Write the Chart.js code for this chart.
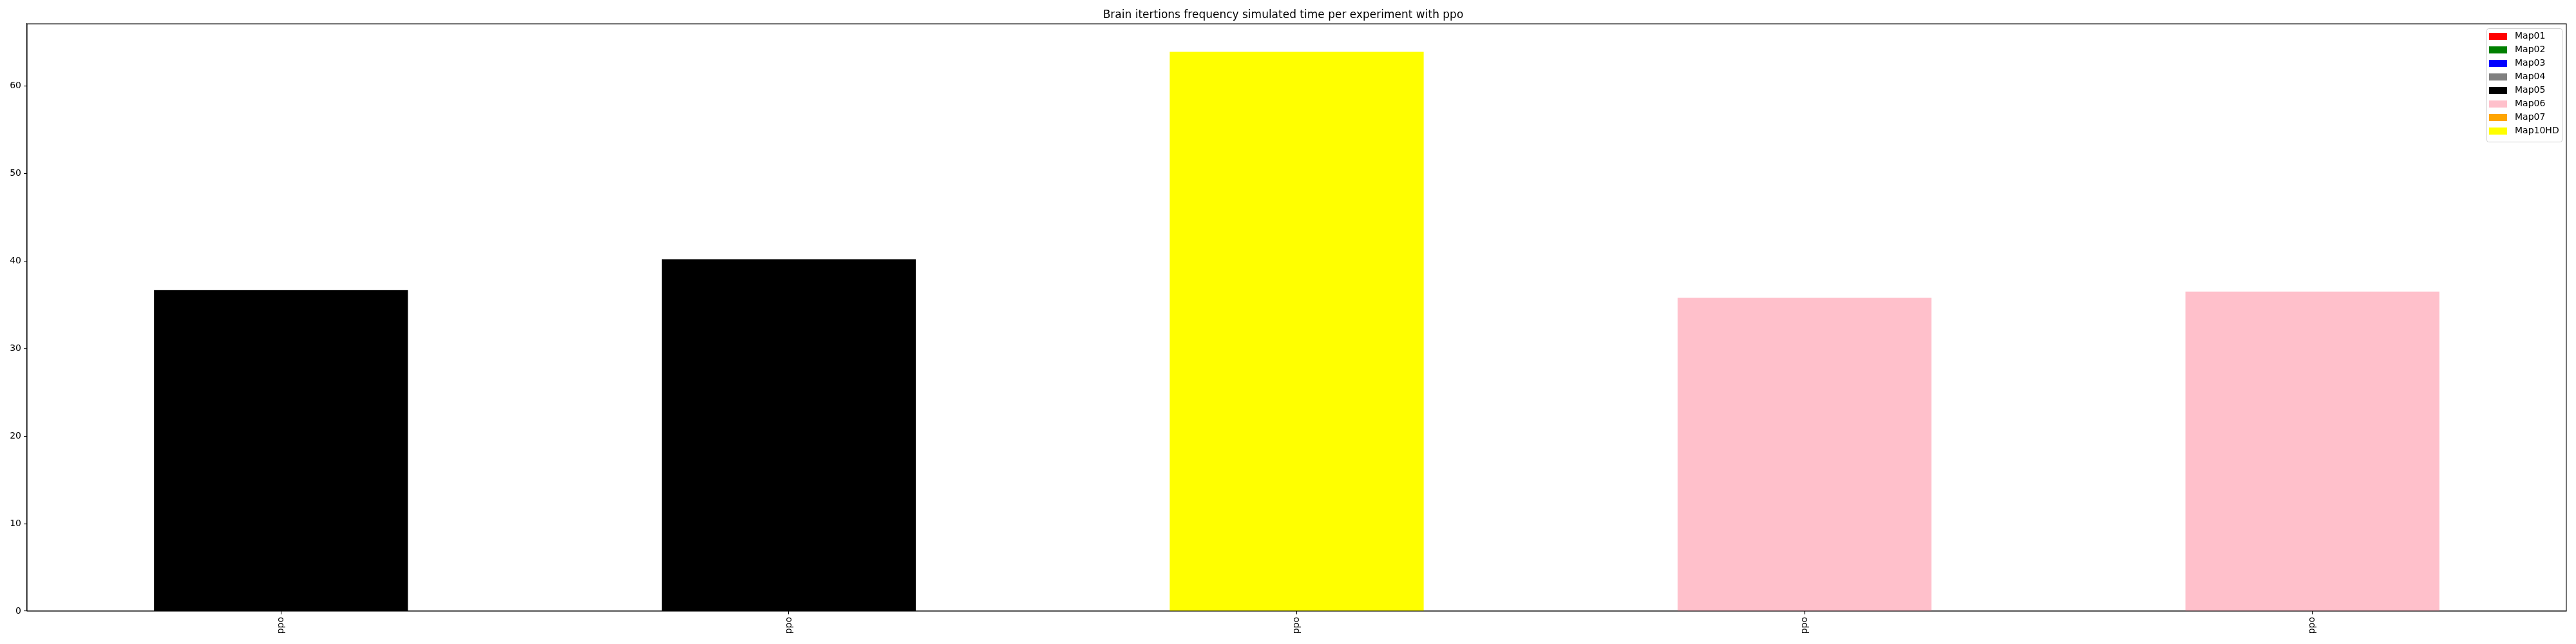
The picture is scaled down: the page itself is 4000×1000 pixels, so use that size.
<!DOCTYPE html>
<html>
<head>
<meta charset="utf-8">
<script src="https://cdn.jsdelivr.net/npm/chart.js@4.4.1/dist/chart.umd.min.js"></script>
<style>
  html, body { margin: 0; padding: 0; background: #fff; }
  #wrap { width: 4000px; height: 1000px; }
</style>
</head>
<body>
<div id="wrap"><canvas id="chartSimTime" width="4000" height="1000"></canvas></div>
<script>
// Values
const mapNames = ['Map01', 'Map02', 'Map03', 'Map04', 'Map05', 'Map06', 'Map07', 'Map10HD'];
const mapColors = ['#ff0000', '#008000', '#0000ff', '#808080', '#000000', '#ffc0cb', '#ffa500', '#ffff00'];
const experimentLabels = ['ppo', 'ppo', 'ppo', 'ppo', 'ppo'];
const experimentMaps = ['Map05', 'Map05', 'Map10HD', 'Map06', 'Map06'];
const simTimeValues = [36.7, 40.2, 63.9, 35.8, 36.5];
const yTickStep = 10;

const FONT = "'DejaVu Sans', sans-serif";

Chart.defaults.font.family = FONT;
Chart.defaults.color = '#000';

/** Frame around the plot area (matplotlib style spines) */
const framePlugin = {
  id: 'frame',
  afterDraw(chart) {
    const { ctx, chartArea: a } = chart;
    ctx.save();
    ctx.strokeStyle = '#000';
    ctx.lineWidth = 1.1;
    ctx.strokeRect(a.left, a.top, a.right - a.left, a.bottom - a.top);
    ctx.restore();
  }
};

/** Legend box in the upper right corner of the plot */
const mapLegendPlugin = {
  id: 'mapLegend',
  afterDraw(chart) {
    const { ctx, chartArea: a } = chart;
    const rowH = 21;
    const boxW = 117;
    const boxH = 12 + rowH * mapNames.length - 4;
    const x0 = a.right - 7 - boxW;
    const y0 = a.top + 7;

    ctx.save();
    ctx.fillStyle = 'rgba(255,255,255,0.8)';
    ctx.strokeStyle = '#cccccc';
    ctx.lineWidth = 1;
    ctx.beginPath();
    ctx.roundRect(x0 + 0.5, y0 + 0.5, boxW, boxH, 3);
    ctx.fill();
    ctx.stroke();

    ctx.font = '14px ' + FONT;
    ctx.textBaseline = 'middle';
    ctx.textAlign = 'left';
    mapNames.forEach((name, i) => {
      const cy = y0 + 12.5 + i * rowH;
      ctx.fillStyle = mapColors[i];
      ctx.fillRect(x0 + 4, cy - 5.5, 28, 11);
      ctx.fillStyle = '#000';
      ctx.fillText(name, x0 + 44, cy);
    });
    ctx.restore();
  }
};

const barColors = experimentMaps.map(m => mapColors[mapNames.indexOf(m)]);

new Chart(document.getElementById('chartSimTime'), {
  type: 'bar',
  data: {
    labels: experimentLabels,
    datasets: [{
      label: 'simulated time',
      data: simTimeValues,
      backgroundColor: barColors,
      borderWidth: 0,
      categoryPercentage: 1.0,
      barPercentage: 0.5
    }]
  },
  options: {
    responsive: false,
    animation: false,
    devicePixelRatio: 1,
    layout: { padding: { left: 0, right: 15, top: 0, bottom: 0 } },
    plugins: {
      legend: { display: false },
      tooltip: { enabled: false },
      title: {
        display: true,
        text: 'Brain itertions frequency simulated time per experiment with ppo',
        color: '#000',
        font: { size: 17, weight: 'normal', family: FONT, lineHeight: 1.2 },
        padding: { top: 13, bottom: 3.6 }
      }
    },
    scales: {
      x: {
        grid: { display: true, offset: false, drawOnChartArea: false, drawTicks: true, tickLength: 5, color: '#000', lineWidth: 1.1 },
        border: { display: true, color: '#000', width: 1.1 },
        ticks: {
          minRotation: 90,
          maxRotation: 90,
          autoSkip: false,
          padding: 4,
          color: '#000',
          font: { size: 14, family: FONT }
        },
        afterFit(scale) { scale.height = 51; }
      },
      y: {
        min: 0,
        max: Math.max(...simTimeValues) * 1.05,
        grid: { display: true, drawOnChartArea: false, drawTicks: true, tickLength: 5, color: '#000', lineWidth: 1.1 },
        border: { display: true, color: '#000', width: 1.1 },
        ticks: {
          stepSize: yTickStep,
          padding: 4,
          color: '#000',
          font: { size: 14, family: FONT }
        },
        afterBuildTicks(scale) {
          scale.ticks = scale.ticks.filter(t => Math.abs(t.value % yTickStep) < 1e-6);
        },
        afterFit(scale) { scale.width = 42; }
      }
    }
  },
  plugins: [framePlugin, mapLegendPlugin]
});
</script>
</body>
</html>
